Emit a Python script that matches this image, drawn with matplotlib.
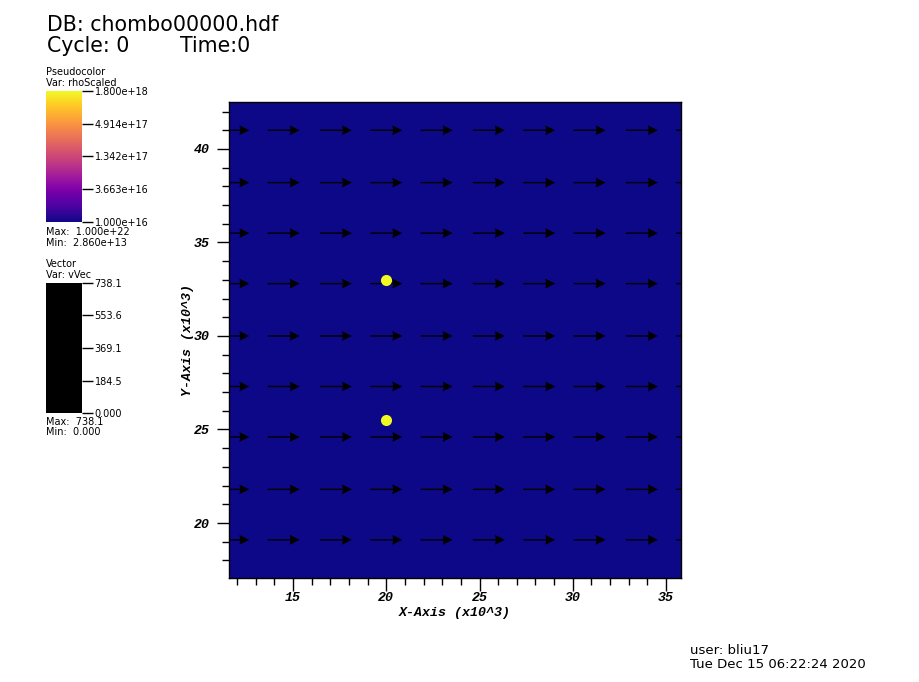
import numpy as np
import matplotlib
matplotlib.use("Agg")
import matplotlib.pyplot as plt
import matplotlib.ticker as ticker
from matplotlib.colors import LogNorm, Normalize, ListedColormap
from matplotlib.cm import ScalarMappable

# ---------------------------------------------------------------------------
# Data (x, y in units of 10^3)
# ---------------------------------------------------------------------------
arrow_x = [11.8, 14.5, 17.3, 20.0, 22.7, 25.5, 28.2, 30.9, 33.7, 36.4]
arrow_y = [19.1, 21.8, 24.6, 27.3, 30.0, 32.8, 35.5, 38.2, 41.0]
vvec_u = 738.1          # uniform x-velocity, all arrows equal
vvec_v = 0.0

dot_x = [20.0, 20.0]
dot_y = [33.0, 25.5]

rho_min, rho_max = 1.0e16, 1.8e18
rho_ticks = [1.0e16, 3.663e16, 1.342e17, 4.914e17, 1.8e18]
rho_ticklabels = ["1.000e+16", "3.663e+16", "1.342e+17", "4.914e+17", "1.800e+18"]
vec_ticks = [0.0, 184.5, 369.1, 553.6, 738.1]
vec_ticklabels = ["0.000", "184.5", "369.1", "553.6", "738.1"]

x_lim = (11.57, 35.80)
y_lim = (17.06, 42.51)

SANS = "DejaVu Sans"
MONO = "Liberation Mono"

fig = plt.figure(figsize=(9.2, 6.82), dpi=100)

# --- main plot ---
ax = fig.add_axes([229 / 920, 1 - 578 / 682, 452 / 920, 476 / 682])
ax.set_facecolor(plt.get_cmap("plasma")(0.0))
ax.set_xlim(*x_lim)
ax.set_ylim(*y_lim)

X, Y = np.meshgrid(arrow_x, arrow_y)
U = np.full(X.shape, vvec_u)
V = np.full(X.shape, vvec_v)
ax.quiver(X, Y, U, V, angles="xy", scale_units="xy", scale=vvec_u / 1.71,
          pivot="middle", units="dots", width=1.4, headwidth=7, headlength=7,
          headaxislength=6.5, color="black", zorder=2)

ax.plot(dot_x, dot_y, "o", color=plt.get_cmap("plasma")(1.0), markersize=8,
        markeredgewidth=0, zorder=3)

ax.xaxis.set_major_locator(ticker.MultipleLocator(5))
ax.xaxis.set_minor_locator(ticker.MultipleLocator(1))
ax.yaxis.set_major_locator(ticker.MultipleLocator(5))
ax.yaxis.set_minor_locator(ticker.MultipleLocator(1))
ax.tick_params(which="major", direction="out", length=9, width=1, pad=5)
ax.tick_params(axis="x", which="major", pad=1)
ax.tick_params(which="minor", direction="out", length=5, width=1)
for lab in ax.get_xticklabels() + ax.get_yticklabels():
    lab.set_fontfamily(MONO)
    lab.set_fontweight("bold")
    lab.set_fontstyle("italic")
    lab.set_fontsize(9.5)
for s in ax.spines.values():
    s.set_linewidth(1)
ax.set_xlabel("X-Axis (x10^3)", fontfamily=MONO, fontweight="bold",
              fontstyle="italic", fontsize=9.5, labelpad=2)
ax.set_ylabel("Y-Axis (x10^3)", fontfamily=MONO, fontweight="bold",
              fontstyle="italic", fontsize=9.5, labelpad=0)

# --- pseudocolor legend ---
cax = fig.add_axes([46 / 920, 1 - 222 / 682, 36 / 920, 131 / 682])
cb = fig.colorbar(ScalarMappable(norm=LogNorm(rho_min, rho_max), cmap="plasma"),
                  cax=cax)
cb.outline.set_visible(False)
cb.set_ticks(rho_ticks)
cb.set_ticklabels(rho_ticklabels)
cb.minorticks_off()
cax.tick_params(length=8, width=1, pad=1, labelsize=7)

# --- vector legend ---
vax = fig.add_axes([46 / 920, 1 - 413 / 682, 36 / 920, 130 / 682])
vb = fig.colorbar(ScalarMappable(norm=Normalize(0, vvec_u),
                                 cmap=ListedColormap(["black"])), cax=vax)
vb.outline.set_visible(False)
vb.set_ticks(vec_ticks)
vb.set_ticklabels(vec_ticklabels)
vax.tick_params(length=8, width=1, pad=1, labelsize=7)

# --- annotation text ---
def txt(x, y, s, size, **kw):
    fig.text(x / 920, 1 - y / 682, s, fontsize=size, fontfamily=SANS,
             va="center", ha="left", **kw)

txt(47, 25, "DB: chombo00000.hdf", 14.8)
txt(47, 46, "Cycle: 0", 14.8)
txt(180, 46, "Time:0", 14.8)

txt(46, 72, "Pseudocolor", 7)
txt(46, 83, "Var: rhoScaled", 7)
txt(46, 232, "Max:  1.000e+22", 7)
txt(46, 243, "Min:  2.860e+13", 7)
txt(46, 264, "Vector", 7)
txt(46, 275, "Var: vVec", 7)
txt(46, 422, "Max:  738.1", 7)
txt(46, 432, "Min:  0.000", 7)

txt(690, 650, "user: bliu17", 9.5)
txt(690, 665, "Tue Dec 15 06:22:24 2020", 9.5)

fig.savefig("out.png", dpi=100)
